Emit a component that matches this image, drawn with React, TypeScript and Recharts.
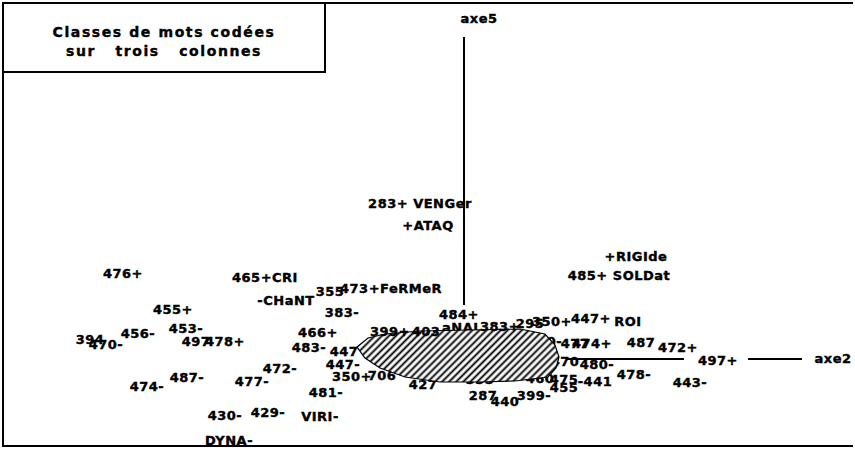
import { ScatterChart, Scatter, XAxis, YAxis, ReferenceLine } from 'recharts';

// libellés au premier plan (coordonnées sur axe2 / axe5)
const labels = [
  '476+', '465+CRI', '-CHaNT', '355', '473+FeRMeR', '283+ VENGer', '+ATAQ', '+RIGIde', '485+ SOLDat',
  '455+', '383-', '456-', '453-', '394', '470-', '497', '478+', '466+', '483-', '447', '447-',
  '472-', '477-', '487-', '474-', '481-', '430-', '429-', 'VIRI-', 'DYNA-', '350+',
  '287', '440', '399-', '455', '-441', '478-', '443-', '497+', 'axe2', 'axe5',
  '484+', '399+', '403', '383+', '295', '350+', '447+', 'ROI', '477', '474+', '487', '472+', '480-',
];
const axe2 = [
  -3.41, -1.99, -1.78, -1.34, -0.73, -0.44, -0.36, 1.72, 1.55,
  -2.91, -1.22, -3.26, -2.78, -3.74, -3.58, -2.68, -2.39, -1.46, -1.55, -1.2, -1.21,
  -1.84, -2.12, -2.77, -3.17, -1.38, -2.39, -1.96, -1.44, -2.35, -1.12,
  0.19, 0.41, 0.7, 1.0, 1.31, 1.7, 2.26, 2.54, 3.69, 0.15,
  -0.05, -0.74, -0.38, 0.36, 0.66, 0.88, 1.27, 1.64, 1.11, 1.28, 1.77, 2.14, 1.33,
];
const axe5 = [
  0.86, 0.82, 0.59, 0.68, 0.71, 1.56, 1.34, 1.03, 0.84,
  0.5, 0.47, 0.26, 0.31, 0.2, 0.15, 0.18, 0.18, 0.27, 0.12, 0.08, -0.05,
  -0.09, -0.22, -0.18, -0.27, -0.33, -0.56, -0.53, -0.57, -0.81, -0.17,
  -0.36, -0.42, -0.36, -0.28, -0.22, -0.15, -0.23, -0.01, 0.01, 3.41,
  0.45, 0.28, 0.28, 0.33, 0.36, 0.38, 0.41, 0.38, 0.16, 0.16, 0.17, 0.12, -0.05,
];

// libellés en partie recouverts par la zone hachurée
const backLabels = ['706', '427', '335', '460', '470-', '445', 'aNAL', '475', '470'];
const backAxe2 = [-0.82, -0.41, 0.16, 0.76, 0.81, -0.3, -0.02, 1.0, 1.01];
const backAxe5 = [-0.16, -0.25, -0.2, -0.19, 0.18, 0.21, 0.32, -0.2, -0.02];

// contour de la zone hachurée
const zoneAxe2 = [-1.07, -0.96, -0.79, -0.44, 0.06, 0.56, 0.81, 0.91, 0.95, 0.92, 0.84, 0.51, 0.16, -0.24, -0.59, -0.84, -0.99];
const zoneAxe5 = [0.12, 0.21, 0.25, 0.28, 0.29, 0.3, 0.25, 0.14, 0.02, -0.09, -0.18, -0.22, -0.23, -0.23, -0.18, -0.09, 0.01];

const toRows = (names: string[], xs: number[], ys: number[]) =>
  names.map((label, i) => ({ label, x: xs[i], y: ys[i] }));

const frontData = toRows(labels, axe2, axe5);
const backData = toRows(backLabels, backAxe2, backAxe5);
const zoneData = zoneAxe2.map((x, i) => ({ x, y: zoneAxe5[i] }));

const font = '"DejaVu Sans", sans-serif';

const LabelMark = (props: any) => {
  const { cx, cy, payload } = props;
  return (
    <text
      x={cx}
      y={cy}
      textAnchor="middle"
      dominantBaseline="central"
      fontFamily={font}
      fontWeight="bold"
      fontSize={13}
      letterSpacing={0.5}
      fill="#000"
      stroke="#000"
      strokeWidth={0.4}
    >
      {payload.label}
    </text>
  );
};

const HatchZone = (props: any) => {
  const pts = props.points || [];
  if (!pts.length) return <g />;
  const d = 'M' + pts.map((p: any) => `${p.x},${p.y}`).join('L') + 'Z';
  return (
    <g>
      <defs>
        <pattern id="hatch" width="5" height="5" patternUnits="userSpaceOnUse" patternTransform="rotate(45)">
          <rect width="5" height="5" fill="#fff" />
          <line x1="2.5" y1="0" x2="2.5" y2="5" stroke="#000" strokeWidth="1.9" />
        </pattern>
      </defs>
      <path d={d} fill="url(#hatch)" stroke="#000" strokeWidth={1.2} />
    </g>
  );
};

export default function App() {
  return (
    <div style={{ position: 'relative', width: 855, height: 450, background: '#fff' }}>
      <style>{'body{margin:0}'}</style>
      <ScatterChart width={855} height={450} margin={{ top: 0, right: 0, bottom: 0, left: 0 }}>
        <XAxis type="number" dataKey="x" domain={[-4.64, 3.91]} hide />
        <YAxis type="number" dataKey="y" domain={[-0.91, 3.59]} hide />
        <ReferenceLine segment={[{ x: 0, y: 0.54 }, { x: 0, y: 3.22 }]} stroke="#000" strokeWidth={2} />
        <ReferenceLine segment={[{ x: 1.03, y: 0 }, { x: 2.2, y: 0 }]} stroke="#000" strokeWidth={2} />
        <ReferenceLine segment={[{ x: 2.84, y: 0 }, { x: 3.38, y: 0 }]} stroke="#000" strokeWidth={2} />
        <Scatter data={backData} shape={LabelMark} isAnimationActive={false} />
        <Scatter data={zoneData} line={HatchZone} lineType="joint" shape={() => <g />} isAnimationActive={false} />
        <Scatter data={frontData} shape={LabelMark} isAnimationActive={false} />
      </ScatterChart>
      <div
        style={{
          position: 'absolute', left: 2, top: 2, width: 851, height: 445,
          borderTop: '2px solid #000', borderLeft: '2px solid #000', borderBottom: '2px solid #000',
          boxSizing: 'border-box', pointerEvents: 'none',
        }}
      />
      <div
        style={{
          position: 'absolute', left: 2, top: 2, width: 324, height: 71,
          border: '2px solid #000', boxSizing: 'border-box', background: '#fff',
          fontFamily: font, fontWeight: 'bold', fontSize: 14, letterSpacing: 1.6,
          textAlign: 'center', lineHeight: '19px', paddingTop: 19, whiteSpace: 'pre',
          WebkitTextStroke: '0.4px #000',
        }}
      >
        <div>Classes de mots codées</div>
        <div>{'sur   trois   colonnes'}</div>
      </div>
    </div>
  );
}
